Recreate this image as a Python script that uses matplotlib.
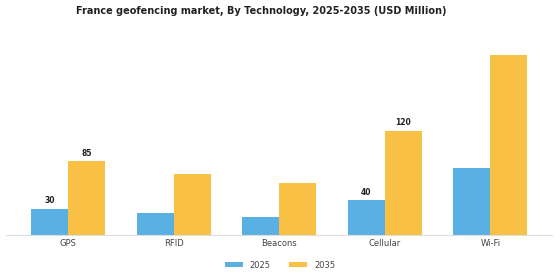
import numpy as np
import matplotlib.pyplot as plt

categories = ["GPS", "RFID", "Beacons", "Cellular", "Wi-Fi"]
values_2025 = [30, 25, 20, 40, 77]
values_2035 = [85, 70, 60, 120, 207]
labels_2025 = ["30", "", "", "40", ""]
labels_2035 = ["85", "", "", "120", ""]

c2025 = "#5AB0E3"
c2035 = "#F8C146"

fig = plt.figure(figsize=(5.6, 2.8), dpi=100)
ax = fig.add_axes([0.011, 0.162, 0.975, 0.672])

x = np.arange(len(categories))
w = 0.35
b1 = ax.bar(x - w / 2, values_2025, w, color=c2025, label="2025")
b2 = ax.bar(x + w / 2, values_2035, w, color=c2035, label="2035")

for bars, labs in [(b1, labels_2025), (b2, labels_2035)]:
    for rect, lab in zip(bars, labs):
        if lab:
            ax.text(rect.get_x() + rect.get_width() / 2, rect.get_height() + 4, lab,
                    ha="center", va="bottom", fontsize=5.5, fontweight="bold", color="#222222")

ax.set_xticks(x)
ax.set_xticklabels(categories, fontsize=6, color="#444444")
ax.tick_params(axis="x", length=0, pad=3)
ax.set_yticks([])
for s in ["top", "right", "left"]:
    ax.spines[s].set_visible(False)
ax.spines["bottom"].set_color("#dddddd")
ax.spines["bottom"].set_linewidth(0.8)

fig.text(0.467, 0.96, "France geofencing market, By Technology, 2025-2035 (USD Million)",
         ha="center", va="center", fontsize=7, fontweight="bold", color="#222222")

fig.legend(loc="center", bbox_to_anchor=(0.5, 0.053), ncol=2, frameon=False,
           fontsize=6, handlelength=2.2, handleheight=0.5, columnspacing=2.2,
           labelcolor="#444444")

fig.savefig("out.png", dpi=100)
